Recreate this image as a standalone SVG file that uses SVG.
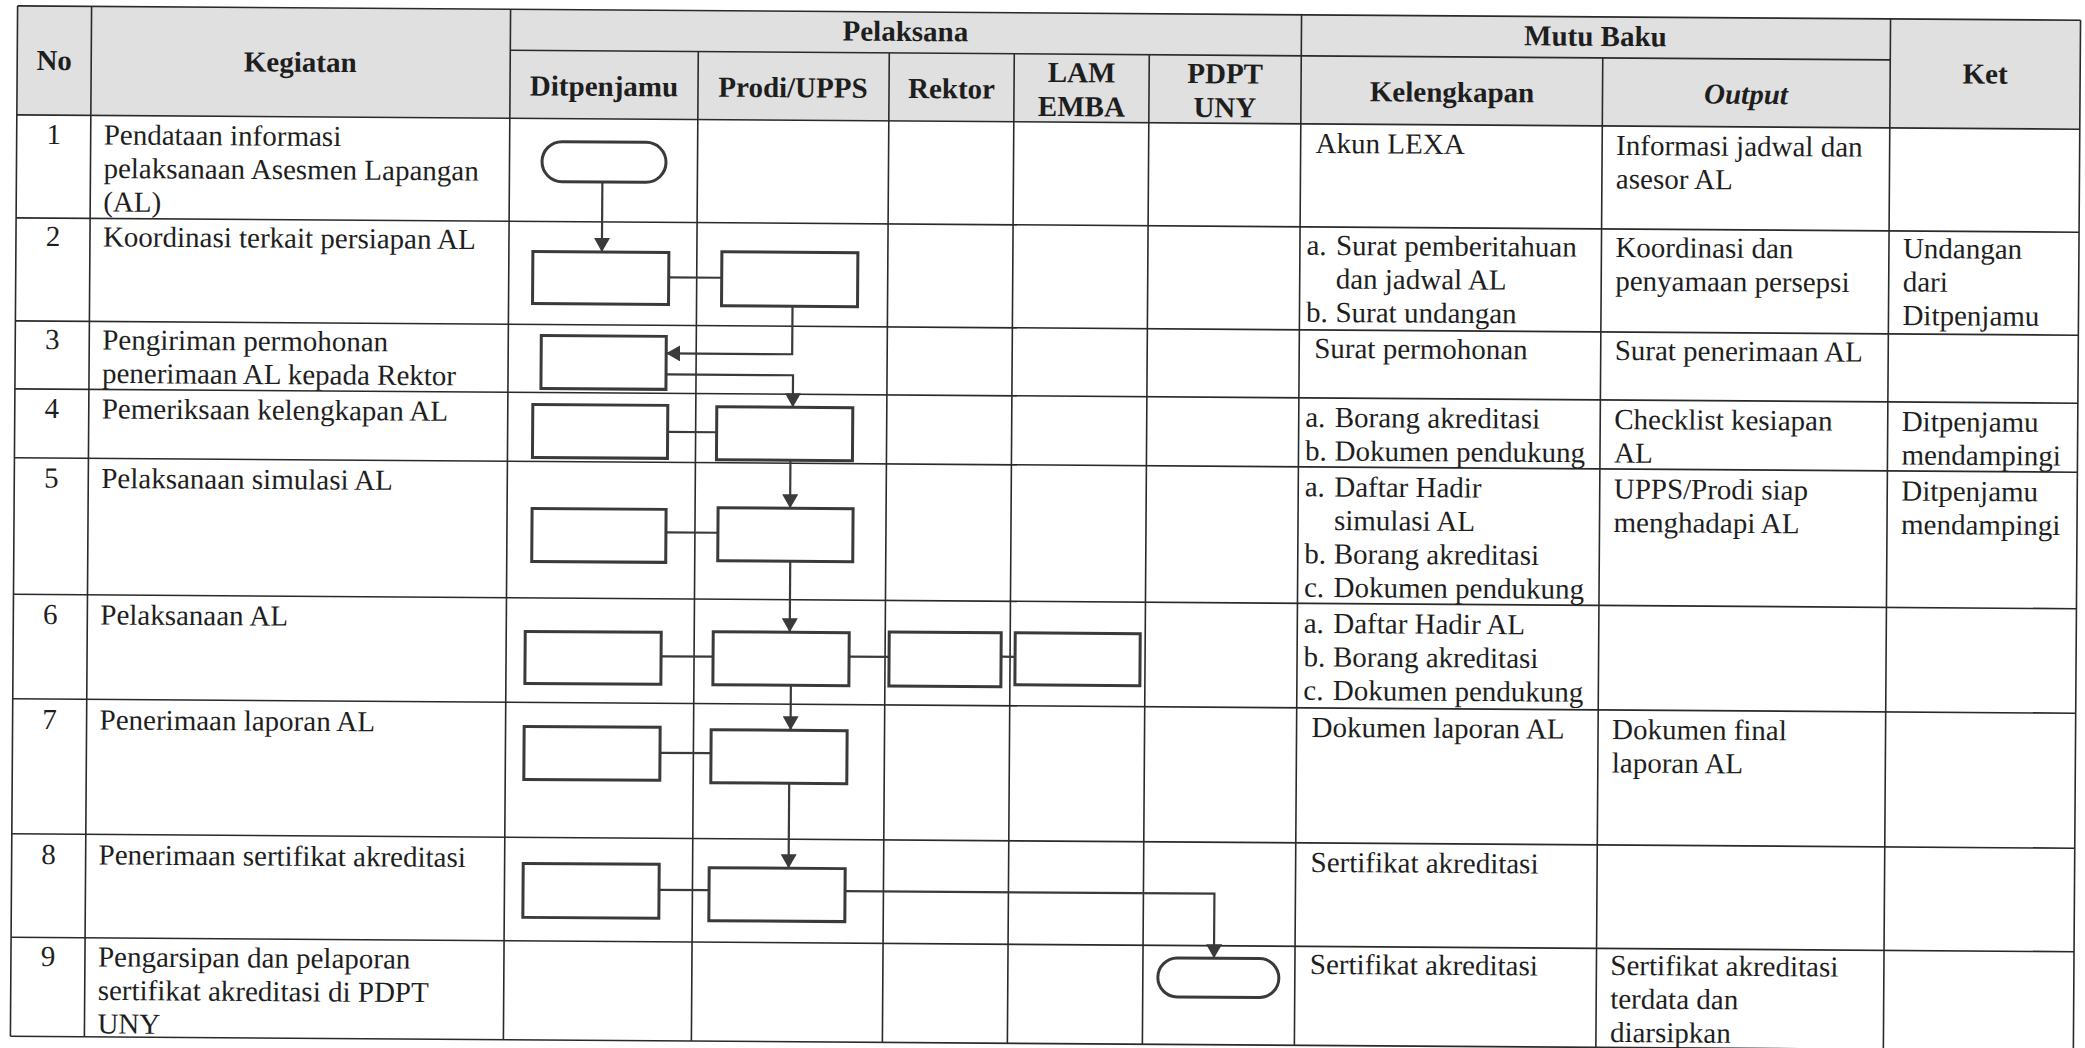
<svg xmlns="http://www.w3.org/2000/svg" width="2085" height="1048" viewBox="0 0 2085 1048">
<defs>
<style>
.t{font-family:"Liberation Serif","Times New Roman",serif;font-size:29px;fill:#1e1e1e}
.h{font-family:"Liberation Serif","Times New Roman",serif;font-size:29px;font-weight:bold;fill:#1e1e1e;text-anchor:middle}
.hi{font-style:italic}
.c{text-anchor:middle}
.grid{stroke:#2a2a2a;stroke-width:1.6;fill:none}
.box{fill:none;stroke:#3a3a3a;stroke-width:3}
.con{fill:none;stroke:#3a3a3a;stroke-width:2.2}
</style>
<marker id="arr" viewBox="0 0 14 16" refX="14" refY="8" markerWidth="14" markerHeight="16" markerUnits="userSpaceOnUse" orient="auto">
<path d="M0,0 L14,8 L0,16 z" fill="#3a3a3a"/>
</marker>
</defs>
<rect width="2085" height="1048" fill="#ffffff"/>
<g transform="rotate(0.4 1042 524)">
<rect x="14" y="13" width="2063" height="109" fill="#e0e0e0"/>
<g id="grid" class="grid">
<path d="M14,13 H2077 M507,54 H1887 M14,122 H2077 M14,225 H2077 M14,328 H2077 M14,396 H2077 M14,465 H2077 M14,601.5 H2077 M14,706 H2077 M14,841 H2077 M14,944.5 H2077 M14,1043.5 H2077"/>
<path d="M14,13 V1043.5 M88,13 V1043.5 M507,13 V1043.5 M1887,13 V1043.5 M2077,13 V1043.5 M1298,13 V1043.5 M695,54 V1043.5 M886,54 V1043.5 M1011,54 V1043.5 M1146,54 V1043.5 M1599.5,54 V1043.5"/>
</g>
<g id="header">
<text class="h" x="51" y="77">No</text>
<text class="h" x="297" y="77">Kegiatan</text>
<text class="h" x="902" y="42">Pelaksana</text>
<text class="h" x="1592" y="42">Mutu Baku</text>
<text class="h" x="1982" y="77">Ket</text>
<text class="h" x="601" y="99">Ditpenjamu</text>
<text class="h" x="790" y="99">Prodi/UPPS</text>
<text class="h" x="948.5" y="99">Rektor</text>
<text class="h" x="1078.5" y="82">LAM</text>
<text class="h" x="1078.5" y="116">EMBA</text>
<text class="h" x="1222" y="82">PDPT</text>
<text class="h" x="1222" y="116">UNY</text>
<text class="h" x="1449" y="99">Kelengkapan</text>
<text class="h hi" x="1743" y="99">Output</text>
</g>
<g id="col-no" class="t c">
<text x="51" y="151">1</text>
<text x="51" y="253">2</text>
<text x="51" y="356">3</text>
<text x="51" y="425">4</text>
<text x="51" y="494.5">5</text>
<text x="51" y="631">6</text>
<text x="51" y="736">7</text>
<text x="51" y="871">8</text>
<text x="51" y="973">9</text>
</g>
<g id="col-kegiatan" class="t">
<text x="101" y="151">Pendataan informasi</text>
<text x="101" y="184.5">pelaksanaan Asesmen Lapangan</text>
<text x="101" y="218">(AL)</text>
<text x="101" y="253">Koordinasi terkait persiapan AL</text>
<text x="101" y="356">Pengiriman permohonan</text>
<text x="101" y="389.5">penerimaan AL kepada Rektor</text>
<text x="101" y="425">Pemeriksaan kelengkapan AL</text>
<text x="101" y="494.5">Pelaksanaan simulasi AL</text>
<text x="101" y="631">Pelaksanaan AL</text>
<text x="101" y="736">Penerimaan laporan AL</text>
<text x="101" y="871">Penerimaan sertifikat akreditasi</text>
<text x="101" y="973">Pengarsipan dan pelaporan</text>
<text x="101" y="1006.5">sertifikat akreditasi di PDPT</text>
<text x="101" y="1040">UNY</text>
</g>
<g id="col-kelengkapan" class="t">
<text x="1313" y="151">Akun LEXA</text>
<text x="1304.5" y="253">a.</text><text x="1334" y="253">Surat pemberitahuan</text>
<text x="1334" y="286.5">dan jadwal AL</text>
<text x="1304.5" y="320">b.</text><text x="1334" y="320">Surat undangan</text>
<text x="1313" y="356">Surat permohonan</text>
<text x="1304.5" y="425">a.</text><text x="1334" y="425">Borang akreditasi</text>
<text x="1304.5" y="458.5">b.</text><text x="1334" y="458.5">Dokumen pendukung</text>
<text x="1304.5" y="494.5">a.</text><text x="1334" y="494.5">Daftar Hadir</text>
<text x="1334" y="528">simulasi AL</text>
<text x="1304.5" y="561.5">b.</text><text x="1334" y="561.5">Borang akreditasi</text>
<text x="1304.5" y="595">c.</text><text x="1334" y="595">Dokumen pendukung</text>
<text x="1304.5" y="631">a.</text><text x="1334" y="631">Daftar Hadir AL</text>
<text x="1304.5" y="664.5">b.</text><text x="1334" y="664.5">Borang akreditasi</text>
<text x="1304.5" y="698">c.</text><text x="1334" y="698">Dokumen pendukung</text>
<text x="1313" y="735">Dokumen laporan AL</text>
<text x="1313" y="870">Sertifikat akreditasi</text>
<text x="1313" y="972">Sertifikat akreditasi</text>
</g>
<g id="col-output" class="t">
<text x="1613.5" y="151">Informasi jadwal dan</text>
<text x="1613.5" y="184.5">asesor AL</text>
<text x="1613.5" y="253">Koordinasi dan</text>
<text x="1613.5" y="286.5">penyamaan persepsi</text>
<text x="1613.5" y="356">Surat penerimaan AL</text>
<text x="1613.5" y="425">Checklist kesiapan</text>
<text x="1613.5" y="458.5">AL</text>
<text x="1613.5" y="494.5">UPPS/Prodi siap</text>
<text x="1613.5" y="528">menghadapi AL</text>
<text x="1613.5" y="735">Dokumen final</text>
<text x="1613.5" y="768.5">laporan AL</text>
<text x="1613.5" y="971">Sertifikat akreditasi</text>
<text x="1613.5" y="1004.5">terdata dan</text>
<text x="1613.5" y="1038">diarsipkan</text>
</g>
<g id="col-ket" class="t">
<text x="1901" y="252">Undangan</text>
<text x="1901" y="285.5">dari</text>
<text x="1901" y="319">Ditpenjamu</text>
<text x="1901" y="425">Ditpenjamu</text>
<text x="1901" y="458.5">mendampingi</text>
<text x="1901" y="494.5">Ditpenjamu</text>
<text x="1901" y="528">mendampingi</text>
</g>
<g id="connectors">
<path class="con" d="M600,185 V255" marker-end="url(#arr)"/>
<path class="con" d="M667,280 H720"/>
<path class="con" d="M791,308 V356 H665" marker-end="url(#arr)"/>
<path class="con" d="M665,377 H792 V409" marker-end="url(#arr)"/>
<path class="con" d="M667,434.5 H716"/>
<path class="con" d="M790,462 V510" marker-end="url(#arr)"/>
<path class="con" d="M666,535 H718"/>
<path class="con" d="M790.5,563 V634" marker-end="url(#arr)"/>
<path class="con" d="M662,659 H714"/>
<path class="con" d="M850,658 H890"/>
<path class="con" d="M1002,657 H1016"/>
<path class="con" d="M792,687 V732" marker-end="url(#arr)"/>
<path class="con" d="M661.6,755.5 H712.6"/>
<path class="con" d="M791,785 V870" marker-end="url(#arr)"/>
<path class="con" d="M661.6,892.5 H711.6"/>
<path class="con" d="M847.6,892.5 H1217 V957" marker-end="url(#arr)"/>
</g>
<g id="n1"><rect class="box" x="539.5" y="145" width="124" height="40" rx="20"/></g>
<g id="n2a"><rect class="box" x="531" y="255" width="136" height="52"/></g>
<g id="n2b"><rect class="box" x="720" y="254" width="136" height="54"/></g>
<g id="n3"><rect class="box" x="540" y="339" width="125" height="53"/></g>
<g id="n4a"><rect class="box" x="532" y="408" width="135" height="53"/></g>
<g id="n4b"><rect class="box" x="716" y="409" width="136" height="53"/></g>
<g id="n5a"><rect class="box" x="532" y="512" width="134" height="53"/></g>
<g id="n5b"><rect class="box" x="718" y="510" width="135" height="53"/></g>
<g id="n6a"><rect class="box" x="526" y="635" width="136" height="52"/></g>
<g id="n6b"><rect class="box" x="714" y="634" width="136" height="53"/></g>
<g id="n6c"><rect class="box" x="890" y="633" width="112" height="54"/></g>
<g id="n6d"><rect class="box" x="1016" y="633" width="125" height="52"/></g>
<g id="n7a"><rect class="box" x="525.6" y="730" width="136" height="53"/></g>
<g id="n7b"><rect class="box" x="712.6" y="732" width="136" height="53"/></g>
<g id="n8a"><rect class="box" x="525.6" y="867" width="136" height="54"/></g>
<g id="n8b"><rect class="box" x="711.6" y="870" width="136" height="53"/></g>
<g id="n9"><rect class="box" x="1161" y="957" width="121" height="39" rx="19.5"/></g>
</g>
</svg>
